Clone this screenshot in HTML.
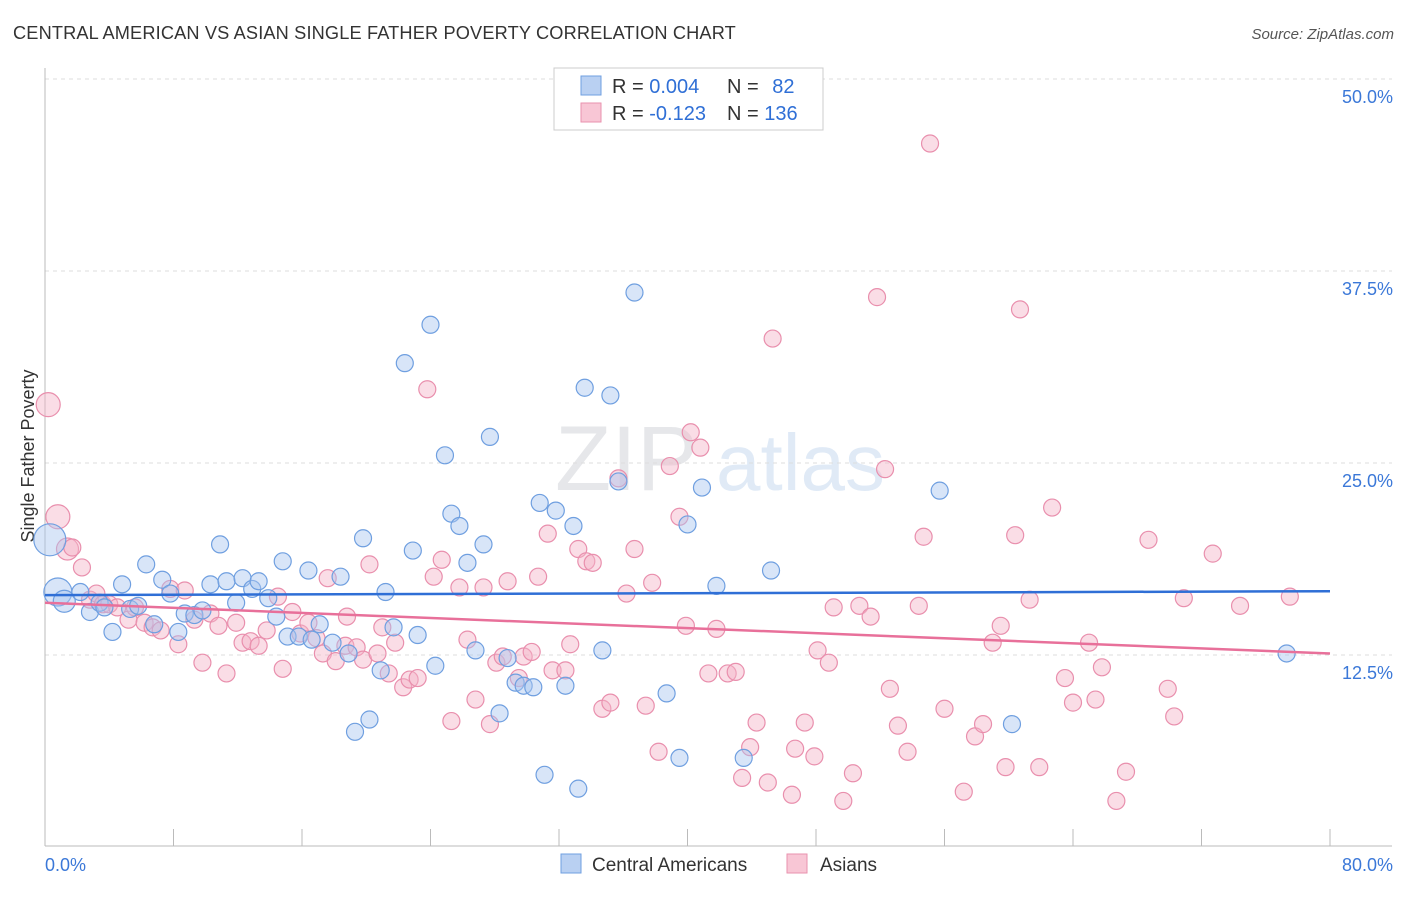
<!DOCTYPE html>
<html><head><meta charset="utf-8"><style>
body{margin:0;background:#fff;font-family:"Liberation Sans",sans-serif;}
svg text{font-family:"Liberation Sans",sans-serif;}
</style></head><body>
<svg id="chart" width="1406" height="892" viewBox="0 0 1406 892" xmlns="http://www.w3.org/2000/svg">
<text x="13" y="39" font-size="18.2" letter-spacing="0.15" fill="#333">CENTRAL AMERICAN VS ASIAN SINGLE FATHER POVERTY CORRELATION CHART</text>
<text x="1394" y="39" font-size="15" fill="#555" text-anchor="end" font-style="italic">Source: ZipAtlas.com</text>
<text transform="translate(34,456) rotate(-90)" font-size="18" fill="#333" text-anchor="middle">Single Father Poverty</text>
<g opacity="0.35">
<text x="555" y="490" font-size="92" font-family="Liberation Serif,serif" fill="#b8bcc4">ZIP</text>
<text x="716" y="490" font-size="80" fill="#a7c4e8">atlas</text>
</g>
<g id="grid"></g>
<g id="axes"></g>
<g id="pts"></g>
<g id="trend"></g>
<g>
<rect x="554" y="68" width="269" height="62" fill="#fff" stroke="#ccc"/>
<rect x="581" y="76" width="20" height="19" fill="#b9d0f2" stroke="#6f9fe0"/>
<rect x="581" y="103" width="20" height="19" fill="#f8c6d5" stroke="#e992ae"/>
<text x="612" y="93" font-size="20" fill="#333">R = <tspan fill="#2f6fd6">0.004</tspan></text>
<text x="727" y="93" font-size="20" fill="#333">N = <tspan fill="#2f6fd6" dx="8">82</tspan></text>
<text x="612" y="120" font-size="20" fill="#333">R = <tspan fill="#2f6fd6">-0.123</tspan></text>
<text x="727" y="120" font-size="20" fill="#333">N = <tspan fill="#2f6fd6">136</tspan></text>
</g>
<g>
<rect x="561" y="854" width="20" height="19" fill="#b9d0f2" stroke="#6f9fe0"/>
<text x="592" y="871" font-size="19" fill="#333">Central Americans</text>
<rect x="787" y="854" width="20" height="19" fill="#f8c6d5" stroke="#e992ae"/>
<text x="820" y="871" font-size="19" fill="#333">Asians</text>
</g>
</svg>
<script>
const yTicks=[12.5,25,37.5,50];
const yTickLabels=["12.5%","25.0%","37.5%","50.0%"];
const xTicks=[0,8,16,24,32,40,48,56,64,72,80];
const caX=[0.3,0.8,1.2,2.2,2.8,3.4,3.7,4.2,4.8,5.3,5.8,6.3,6.8,7.3,7.8,8.3,8.7,9.3,9.8,10.3,10.9,11.3,11.9,12.3,12.9,13.3,13.9,14.4,14.8,15.1,15.8,16.4,16.6,17.1,17.9,18.4,18.9,19.3,19.8,20.2,20.9,21.2,21.7,22.4,22.9,23.2,24.0,24.3,24.9,25.3,25.8,26.3,26.8,27.3,27.7,28.3,28.8,29.3,29.8,30.4,30.8,31.1,31.8,32.4,32.9,33.2,33.6,34.7,35.2,35.7,36.7,38.7,39.5,40.0,40.9,41.8,43.5,45.2,55.7,60.2,77.3];
const caY=[20.0,16.6,16.0,16.6,15.3,15.9,15.6,14.0,17.1,15.5,15.7,18.4,14.5,17.4,16.5,14.0,15.2,15.1,15.4,17.1,19.7,17.3,15.9,17.5,16.8,17.3,16.2,15.0,18.6,13.7,13.7,18.0,13.5,14.5,13.3,17.6,12.6,7.5,20.1,8.3,11.5,16.6,14.3,31.5,19.3,13.8,34.0,11.8,25.5,21.7,20.9,18.5,12.8,19.7,26.7,8.7,12.3,10.7,10.5,10.4,22.4,4.7,21.9,10.5,20.9,3.8,29.9,12.8,29.4,23.8,36.1,10.0,5.8,21.0,23.4,17.0,5.8,18.0,23.2,8.0,12.6];
const asX=[0.2,0.8,1.4,1.7,2.3,2.8,3.2,3.6,4.0,4.5,5.2,5.6,6.2,6.7,7.2,7.8,8.3,8.7,9.3,9.8,10.3,10.8,11.3,11.9,12.3,12.8,13.3,13.8,14.5,14.8,15.4,15.9,16.4,16.9,17.3,17.6,18.1,18.7,18.8,19.4,19.8,20.2,20.7,21.0,21.4,21.8,22.3,22.7,23.2,23.8,24.2,24.7,25.3,25.8,26.3,26.8,27.3,27.7,28.1,28.5,28.8,29.5,29.8,30.3,30.7,31.3,31.6,32.4,32.7,33.2,33.7,34.1,34.7,35.2,35.7,36.2,36.7,37.4,37.8,38.2,38.9,39.5,39.9,40.2,40.8,41.3,41.8,42.5,43.0,43.4,43.9,44.3,45.0,45.3,46.5,46.7,47.3,47.9,48.1,48.8,49.1,49.7,50.3,50.7,51.4,51.8,52.3,52.6,53.1,53.7,54.4,54.7,55.1,56.0,57.2,57.9,58.4,59.0,59.5,59.8,60.4,60.7,61.3,61.9,62.7,63.5,64.0,65.0,65.4,65.8,66.7,67.3,68.7,69.9,70.3,70.9,72.7,74.4,77.5];
const asY=[28.8,21.5,19.4,19.5,18.2,16.1,16.5,15.8,15.8,15.6,14.8,15.6,14.6,14.3,14.1,16.8,13.2,16.7,14.8,12.0,15.2,14.4,11.3,14.6,13.3,13.4,13.1,14.1,16.3,11.6,15.3,13.9,14.6,13.6,12.6,17.5,12.1,13.1,15.0,13.0,12.2,18.4,12.6,14.3,11.3,13.3,10.4,10.9,11.0,29.8,17.6,18.7,8.2,16.9,13.5,9.6,16.9,8.0,12.0,12.4,17.3,11.0,12.4,12.7,17.6,20.4,11.5,11.5,13.2,19.4,18.6,18.5,9.0,9.4,24.0,16.5,19.4,9.2,17.2,6.2,24.8,21.5,14.4,27.0,26.0,11.3,14.2,11.3,11.4,4.5,6.5,8.1,4.2,33.1,3.4,6.4,8.1,5.9,12.8,12.0,15.6,3.0,4.8,15.7,15.0,35.8,24.6,10.3,7.9,6.2,15.7,20.2,45.8,9.0,3.6,7.2,8.0,13.3,14.4,5.2,20.3,35.0,16.1,5.2,22.1,11.0,9.4,13.3,9.6,11.7,3.0,4.9,20.0,10.3,8.5,16.2,19.1,15.7,16.3];
const caTrend=[16.4,16.65];
const asTrend=[15.9,12.6];
const NS='http://www.w3.org/2000/svg';
const X0=45,X1=1330,YB=847,PX=192/12.5;
const sx=v=>X0+(X1-X0)*v/80;
const sy=v=>YB-v*PX;
function mk(tag,attrs,parent){const e=document.createElementNS(NS,tag);for(const k in attrs)e.setAttribute(k,attrs[k]);parent.appendChild(e);return e;}
const grid=document.getElementById('grid'),axes=document.getElementById('axes'),pts=document.getElementById('pts'),trend=document.getElementById('trend');
yTicks.forEach((t,i)=>{
 const l=mk('line',{x1:X0,x2:1392,y1:sy(t),y2:sy(t),stroke:'#ddd','stroke-dasharray':'4,4'},grid);
 
 
 const tx=mk('text',{x:1393,y:sy(t)+24,'font-size':18,fill:'#3b78d8','text-anchor':'end'},axes);
 tx.textContent=yTickLabels[i];
 
 
});
mk('line',{x1:X0,x2:X0,y1:68,y2:846,stroke:'#bbb'},axes);
mk('line',{x1:X0,x2:1392,y1:846,y2:846,stroke:'#bbb'},axes);
xTicks.forEach(t=>{
 const l=mk('line',{x1:sx(t),x2:sx(t),y1:829,y2:846,stroke:'#bbb'},axes);
 
 
});
const xl0=mk('text',{x:45,y:871,'font-size':18,fill:'#3b78d8'},axes);xl0.textContent='0.0%';


const xl1=mk('text',{x:1393,y:871,'font-size':18,fill:'#3b78d8','text-anchor':'end'},axes);xl1.textContent='80.0%';


function drawSeries(xs,ys,fill,stroke,name,big){
 xs.forEach((x,i)=>{
  const r=big[i]||8.5;
  const c=mk('circle',{cx:sx(x),cy:sy(ys[i]),r:r,fill:fill,'fill-opacity':0.45,stroke:stroke,'stroke-width':1.2},pts);
  
  
 });
}
drawSeries(asX,asY,'#f4b3c7','#e98fad','asian-point',{0:12,1:12,2:11});
drawSeries(caX,caY,'#a8c5ef','#6f9fe0','central-american-point',{0:16,1:14,2:11});
const t1=mk('line',{x1:sx(0),x2:sx(80),y1:sy(caTrend[0]),y2:sy(caTrend[1]),stroke:'#2f6fd6','stroke-width':2.5},trend);


const t2=mk('line',{x1:sx(0),x2:sx(80),y1:sy(asTrend[0]),y2:sy(asTrend[1]),stroke:'#e8709a','stroke-width':2.5},trend);


</script>
</body></html>
